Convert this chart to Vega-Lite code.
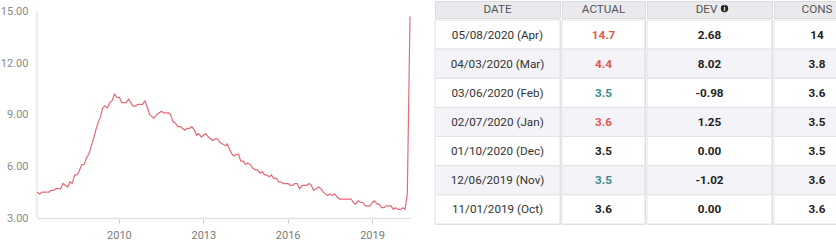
{
  "$schema": "https://vega.github.io/schema/vega-lite/v6.json",
  "padding": {"left": 0, "top": 0, "right": 0, "bottom": 0},
  "background": "white",
  "config": {"font": "Roboto", "view": {"stroke": null}, "concat": {"spacing": 0}},
  "datasets": {
    "series": [
      {"date": "2007-02-02", "rate": 4.5}, {"date": "2007-03-09", "rate": 4.4}, {"date": "2007-04-06", "rate": 4.5}, {"date": "2007-05-04", "rate": 4.5},
      {"date": "2007-06-01", "rate": 4.5}, {"date": "2007-07-06", "rate": 4.5}, {"date": "2007-08-03", "rate": 4.6}, {"date": "2007-09-07", "rate": 4.6},
      {"date": "2007-10-05", "rate": 4.7}, {"date": "2007-11-02", "rate": 4.7}, {"date": "2007-12-07", "rate": 4.7}, {"date": "2008-01-04", "rate": 5.0},
      {"date": "2008-02-01", "rate": 4.9}, {"date": "2008-03-07", "rate": 4.8}, {"date": "2008-04-04", "rate": 5.1}, {"date": "2008-05-02", "rate": 5.0},
      {"date": "2008-06-06", "rate": 5.5}, {"date": "2008-07-03", "rate": 5.5}, {"date": "2008-08-01", "rate": 5.7}, {"date": "2008-09-05", "rate": 6.1},
      {"date": "2008-10-03", "rate": 6.1}, {"date": "2008-11-07", "rate": 6.5}, {"date": "2008-12-05", "rate": 6.7}, {"date": "2009-01-09", "rate": 7.2},
      {"date": "2009-02-06", "rate": 7.6}, {"date": "2009-03-06", "rate": 8.1}, {"date": "2009-04-03", "rate": 8.5}, {"date": "2009-05-08", "rate": 8.9},
      {"date": "2009-06-05", "rate": 9.4}, {"date": "2009-07-02", "rate": 9.5}, {"date": "2009-08-07", "rate": 9.4}, {"date": "2009-09-04", "rate": 9.7},
      {"date": "2009-10-02", "rate": 9.8}, {"date": "2009-11-06", "rate": 10.2}, {"date": "2009-12-04", "rate": 10.0}, {"date": "2010-01-08", "rate": 10.0},
      {"date": "2010-02-05", "rate": 9.7}, {"date": "2010-03-05", "rate": 9.7}, {"date": "2010-04-02", "rate": 9.7}, {"date": "2010-05-07", "rate": 9.9},
      {"date": "2010-06-04", "rate": 9.7}, {"date": "2010-07-02", "rate": 9.5}, {"date": "2010-08-06", "rate": 9.5}, {"date": "2010-09-03", "rate": 9.6},
      {"date": "2010-10-08", "rate": 9.6}, {"date": "2010-11-05", "rate": 9.6}, {"date": "2010-12-03", "rate": 9.8}, {"date": "2011-01-07", "rate": 9.4},
      {"date": "2011-02-04", "rate": 9.0}, {"date": "2011-03-04", "rate": 8.9}, {"date": "2011-04-01", "rate": 8.8}, {"date": "2011-05-06", "rate": 9.0},
      {"date": "2011-06-03", "rate": 9.1}, {"date": "2011-07-08", "rate": 9.2}, {"date": "2011-08-05", "rate": 9.1}, {"date": "2011-09-02", "rate": 9.1},
      {"date": "2011-10-07", "rate": 9.1}, {"date": "2011-11-04", "rate": 9.0}, {"date": "2011-12-02", "rate": 8.6}, {"date": "2012-01-06", "rate": 8.5},
      {"date": "2012-02-03", "rate": 8.3}, {"date": "2012-03-09", "rate": 8.3}, {"date": "2012-04-06", "rate": 8.2}, {"date": "2012-05-04", "rate": 8.1},
      {"date": "2012-06-01", "rate": 8.2}, {"date": "2012-07-06", "rate": 8.2}, {"date": "2012-08-03", "rate": 8.3}, {"date": "2012-09-07", "rate": 8.1},
      {"date": "2012-10-05", "rate": 7.8}, {"date": "2012-11-02", "rate": 7.9}, {"date": "2012-12-07", "rate": 7.7}, {"date": "2013-01-04", "rate": 7.8},
      {"date": "2013-02-01", "rate": 7.9}, {"date": "2013-03-08", "rate": 7.7}, {"date": "2013-04-05", "rate": 7.6}, {"date": "2013-05-03", "rate": 7.5},
      {"date": "2013-06-07", "rate": 7.6}, {"date": "2013-07-05", "rate": 7.6}, {"date": "2013-08-02", "rate": 7.4}, {"date": "2013-09-06", "rate": 7.3},
      {"date": "2013-10-22", "rate": 7.2}, {"date": "2013-11-08", "rate": 7.3}, {"date": "2013-12-06", "rate": 7.0}, {"date": "2014-01-10", "rate": 6.7},
      {"date": "2014-02-07", "rate": 6.6}, {"date": "2014-03-07", "rate": 6.7}, {"date": "2014-04-04", "rate": 6.7}, {"date": "2014-05-02", "rate": 6.3},
      {"date": "2014-06-06", "rate": 6.3}, {"date": "2014-07-03", "rate": 6.1}, {"date": "2014-08-01", "rate": 6.2}, {"date": "2014-09-05", "rate": 6.1},
      {"date": "2014-10-03", "rate": 5.9}, {"date": "2014-11-07", "rate": 5.8}, {"date": "2014-12-05", "rate": 5.8}, {"date": "2015-01-09", "rate": 5.6},
      {"date": "2015-02-06", "rate": 5.7}, {"date": "2015-03-06", "rate": 5.5}, {"date": "2015-04-03", "rate": 5.5}, {"date": "2015-05-08", "rate": 5.4},
      {"date": "2015-06-05", "rate": 5.5}, {"date": "2015-07-02", "rate": 5.3}, {"date": "2015-08-07", "rate": 5.3}, {"date": "2015-09-04", "rate": 5.1},
      {"date": "2015-10-02", "rate": 5.1}, {"date": "2015-11-06", "rate": 5.0}, {"date": "2015-12-04", "rate": 5.0}, {"date": "2016-01-08", "rate": 5.0},
      {"date": "2016-02-05", "rate": 4.9}, {"date": "2016-03-04", "rate": 4.9}, {"date": "2016-04-01", "rate": 5.0}, {"date": "2016-05-06", "rate": 5.0},
      {"date": "2016-06-03", "rate": 4.7}, {"date": "2016-07-08", "rate": 4.9}, {"date": "2016-08-05", "rate": 4.9}, {"date": "2016-09-02", "rate": 4.9},
      {"date": "2016-10-07", "rate": 5.0}, {"date": "2016-11-04", "rate": 4.9}, {"date": "2016-12-02", "rate": 4.6}, {"date": "2017-01-06", "rate": 4.7},
      {"date": "2017-02-03", "rate": 4.8}, {"date": "2017-03-10", "rate": 4.7}, {"date": "2017-04-07", "rate": 4.5}, {"date": "2017-05-05", "rate": 4.4},
      {"date": "2017-06-02", "rate": 4.3}, {"date": "2017-07-07", "rate": 4.4}, {"date": "2017-08-04", "rate": 4.3}, {"date": "2017-09-01", "rate": 4.4},
      {"date": "2017-10-06", "rate": 4.2}, {"date": "2017-11-03", "rate": 4.1}, {"date": "2017-12-08", "rate": 4.1}, {"date": "2018-01-05", "rate": 4.1},
      {"date": "2018-02-02", "rate": 4.1}, {"date": "2018-03-09", "rate": 4.1}, {"date": "2018-04-06", "rate": 4.1}, {"date": "2018-05-04", "rate": 3.9},
      {"date": "2018-06-01", "rate": 3.8}, {"date": "2018-07-06", "rate": 4.0}, {"date": "2018-08-03", "rate": 3.9}, {"date": "2018-09-07", "rate": 3.9},
      {"date": "2018-10-05", "rate": 3.7}, {"date": "2018-11-02", "rate": 3.7}, {"date": "2018-12-07", "rate": 3.7}, {"date": "2019-01-04", "rate": 3.9},
      {"date": "2019-02-01", "rate": 4.0}, {"date": "2019-03-08", "rate": 3.8}, {"date": "2019-04-05", "rate": 3.8}, {"date": "2019-05-03", "rate": 3.6},
      {"date": "2019-06-07", "rate": 3.6}, {"date": "2019-07-05", "rate": 3.7}, {"date": "2019-08-02", "rate": 3.7}, {"date": "2019-09-06", "rate": 3.7},
      {"date": "2019-10-04", "rate": 3.5}, {"date": "2019-11-01", "rate": 3.6}, {"date": "2019-12-06", "rate": 3.5}, {"date": "2020-01-10", "rate": 3.5},
      {"date": "2020-02-07", "rate": 3.6}, {"date": "2020-03-06", "rate": 3.5}, {"date": "2020-04-03", "rate": 4.4}, {"date": "2020-05-08", "rate": 14.7}
    ],
    "table": [
      {"row": 1, "date": "05/08/2020 (Apr)", "actual": "14.7", "dev": "2.68", "cons": "14", "surprise": "worse"},
      {"row": 2, "date": "04/03/2020 (Mar)", "actual": "4.4", "dev": "8.02", "cons": "3.8", "surprise": "worse"},
      {"row": 3, "date": "03/06/2020 (Feb)", "actual": "3.5", "dev": "-0.98", "cons": "3.6", "surprise": "better"},
      {"row": 4, "date": "02/07/2020 (Jan)", "actual": "3.6", "dev": "1.25", "cons": "3.5", "surprise": "worse"},
      {"row": 5, "date": "01/10/2020 (Dec)", "actual": "3.5", "dev": "0.00", "cons": "3.5", "surprise": "inline"},
      {"row": 6, "date": "12/06/2019 (Nov)", "actual": "3.5", "dev": "-1.02", "cons": "3.6", "surprise": "better"},
      {"row": 7, "date": "11/01/2019 (Oct)", "actual": "3.6", "dev": "0.00", "cons": "3.6", "surprise": "inline"}
    ]
  },
  "spacing": 21,
  "hconcat": [
    {
      "width": 373,
      "height": 217,
      "data": {"name": "series"},
      "layer": [
        {
          "mark": {"type": "rule", "color": "#ededed", "strokeWidth": 2.5},
          "encoding": {
            "x": {"aggregate": "min", "field": "date", "type": "temporal"},
            "y": {"datum": 3},
            "y2": {"datum": 15}
          }
        },
        {
          "mark": {"type": "line", "color": "#e36b78", "strokeWidth": 1.2},
          "encoding": {
            "x": {
              "field": "date", "type": "temporal",
              "scale": {"nice": false},
              "axis": {
                "values": [{"year": 2010, "month": 1, "date": 1}, {"year": 2013, "month": 1, "date": 1}, {"year": 2016, "month": 1, "date": 1}, {"year": 2019, "month": 1, "date": 1}],
                "format": "%Y", "grid": false, "title": null,
                "domainColor": "#e2e2e2", "domainWidth": 1.5,
                "tickColor": "#cccccc", "tickSize": 5,
                "labelColor": "#7a7a7a", "labelFontSize": 11, "labelPadding": 6
              }
            },
            "y": {
              "field": "rate", "type": "quantitative",
              "scale": {"domain": [3, 15.6], "nice": false, "zero": false},
              "axis": {
                "values": [3, 6, 9, 12, 15], "format": ".2f", "title": null,
                "gridColor": "#e6e6e6", "gridWidth": 1.2,
                "domain": false,
                "ticks": false, "labelPadding": 9,
                "labelColor": "#8a8a8a", "labelFontSize": 11
              }
            }
          }
        }
      ]
    },
    {
      "spacing": 0,
      "hconcat": [
        {
          "spacing": 0,
          "vconcat": [
            {
              "width": 125, "height": 17,
              "view": {"fill": "#eaeaee", "stroke": "#dcdcdf"},
              "data": {"values": [{"h": "DATE"}]},
              "mark": {"type": "text", "fontSize": 11.7, "color": "#555555", "dy": -1},
              "encoding": {"text": {"field": "h"}}
            },
            {
              "width": 125, "height": 204,
              "view": {"stroke": "#dcdcdf"},
              "data": {"name": "table"},
              "layer": [
                {
                  "mark": {"type": "rect", "stroke": "#e2e2e6", "strokeWidth": 1},
                  "encoding": {
                    "y": {"field": "row", "type": "ordinal", "axis": null, "scale": {"paddingInner": 0, "paddingOuter": 0}},
                    "fill": {"field": "row", "type": "ordinal", "legend": null, "scale": {"domain": [1, 2, 3, 4, 5, 6, 7], "range": ["#ffffff", "#f4f4f8", "#ffffff", "#f4f4f8", "#ffffff", "#f4f4f8", "#ffffff"]}}
                  }
                },
                {
                  "mark": {"type": "text", "fontSize": 11.7, "color": "#333333"},
                  "encoding": {
                    "y": {"field": "row", "type": "ordinal", "axis": null},
                    "text": {"field": "date"}
                  }
                }
              ]
            }
          ]
        },
        {
          "spacing": 0,
          "vconcat": [
            {
              "width": 83, "height": 17,
              "view": {"fill": "#eaeaee", "stroke": "#dcdcdf"},
              "data": {"values": [{"h": "ACTUAL"}]},
              "mark": {"type": "text", "fontSize": 11.7, "color": "#555555", "dy": -1},
              "encoding": {"text": {"field": "h"}}
            },
            {
              "width": 83, "height": 204,
              "view": {"stroke": "#dcdcdf"},
              "data": {"name": "table"},
              "layer": [
                {
                  "mark": {"type": "rect", "stroke": "#e2e2e6", "strokeWidth": 1},
                  "encoding": {
                    "y": {"field": "row", "type": "ordinal", "axis": null, "scale": {"paddingInner": 0, "paddingOuter": 0}},
                    "fill": {"field": "row", "type": "ordinal", "legend": null, "scale": {"domain": [1, 2, 3, 4, 5, 6, 7], "range": ["#ffffff", "#f4f4f8", "#ffffff", "#f4f4f8", "#ffffff", "#f4f4f8", "#ffffff"]}}
                  }
                },
                {
                  "mark": {"type": "text", "fontSize": 11.7, "fontWeight": "bold"},
                  "encoding": {
                    "y": {"field": "row", "type": "ordinal", "axis": null},
                    "text": {"field": "actual"},
                    "color": {"field": "surprise", "type": "nominal", "legend": null, "scale": {"domain": ["worse", "better", "inline"], "range": ["#e0584f", "#3b8a8e", "#222222"]}}
                  }
                }
              ]
            }
          ]
        },
        {
          "spacing": 0,
          "vconcat": [
            {
              "width": 125, "height": 17,
              "view": {"fill": "#eaeaee", "stroke": "#dcdcdf"},
              "data": {"values": [{"h": "DEV", "i": "i"}]},
              "layer": [
                {
                  "mark": {"type": "text", "fontSize": 11.7, "color": "#555555", "dy": -1, "dx": -3},
                  "encoding": {"text": {"field": "h"}}
                },
                {
                  "mark": {"type": "point", "filled": true, "shape": "circle", "size": 55, "color": "#222222", "opacity": 1, "xOffset": 15, "yOffset": -1},
                  "encoding": {}
                },
                {
                  "mark": {"type": "text", "fontSize": 7, "fontWeight": "bold", "color": "#ffffff", "dx": 15, "dy": -1},
                  "encoding": {"text": {"field": "i"}}
                }
              ]
            },
            {
              "width": 125, "height": 204,
              "view": {"stroke": "#dcdcdf"},
              "data": {"name": "table"},
              "layer": [
                {
                  "mark": {"type": "rect", "stroke": "#e2e2e6", "strokeWidth": 1},
                  "encoding": {
                    "y": {"field": "row", "type": "ordinal", "axis": null, "scale": {"paddingInner": 0, "paddingOuter": 0}},
                    "fill": {"field": "row", "type": "ordinal", "legend": null, "scale": {"domain": [1, 2, 3, 4, 5, 6, 7], "range": ["#ffffff", "#f4f4f8", "#ffffff", "#f4f4f8", "#ffffff", "#f4f4f8", "#ffffff"]}}
                  }
                },
                {
                  "mark": {"type": "text", "fontSize": 11.7, "fontWeight": "bold", "color": "#222222"},
                  "encoding": {
                    "y": {"field": "row", "type": "ordinal", "axis": null},
                    "text": {"field": "dev"}
                  }
                }
              ]
            }
          ]
        },
        {
          "spacing": 0,
          "vconcat": [
            {
              "width": 70, "height": 17,
              "view": {"fill": "#eaeaee", "stroke": "#dcdcdf"},
              "data": {"values": [{"h": "CONS"}]},
              "mark": {"type": "text", "fontSize": 11.7, "color": "#555555", "dy": -1, "dx": 8},
              "encoding": {"text": {"field": "h"}}
            },
            {
              "width": 70, "height": 204,
              "view": {"stroke": "#dcdcdf"},
              "data": {"name": "table"},
              "layer": [
                {
                  "mark": {"type": "rect", "stroke": "#e2e2e6", "strokeWidth": 1},
                  "encoding": {
                    "y": {"field": "row", "type": "ordinal", "axis": null, "scale": {"paddingInner": 0, "paddingOuter": 0}},
                    "fill": {"field": "row", "type": "ordinal", "legend": null, "scale": {"domain": [1, 2, 3, 4, 5, 6, 7], "range": ["#ffffff", "#f4f4f8", "#ffffff", "#f4f4f8", "#ffffff", "#f4f4f8", "#ffffff"]}}
                  }
                },
                {
                  "mark": {"type": "text", "fontSize": 11.7, "fontWeight": "bold", "color": "#222222", "dx": 8},
                  "encoding": {
                    "y": {"field": "row", "type": "ordinal", "axis": null},
                    "text": {"field": "cons"}
                  }
                }
              ]
            }
          ]
        }
      ]
    }
  ]
}
